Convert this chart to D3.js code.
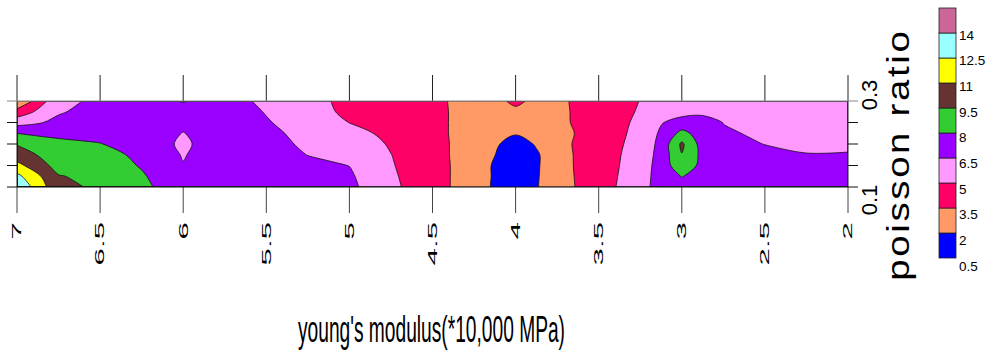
<!DOCTYPE html>
<html>
<head>
<meta charset="utf-8">
<script src="https://cdnjs.cloudflare.com/ajax/libs/d3/7.8.5/d3.min.js"></script>
<style>
  body { margin: 0; background: #fff; }
  svg { display: block; font-family: "Liberation Sans", Arial, sans-serif; }
</style>
</head>
<body>
<div id="chart"></div>
<script>
// grid columns: young's modulus (*10,000 MPa)
const youngModulus = [7, 6.75, 6.5, 6.25, 6, 5.75, 5.5, 5.25, 5, 4.75, 4.5, 4.25, 4.125, 4, 3.875, 3.75, 3.5, 3.25, 3.125, 3, 2.875, 2.75, 2.5, 2.25, 2];
// grid rows: poisson ratio, top to bottom
const poissonRatio = [0.3, 0.275, 0.25, 0.225, 0.2, 0.175, 0.15, 0.125, 0.1];

// values, one row per poisson ratio
const zRows = [
  [1.9, 6.2, 6.73, 7.0, 8.1, 7.0, 6.24, 5.5, 4.6, 4.2, 3.95, 2.7, 3.0, 3.9, 3.05, 3.15, 4.4, 5.02, 5.2, 5.3, 5.4, 5.5, 5.5, 5.6, 5.6],
  [4.1, 6.35, 7.1, 7.2, 7.4, 7.3, 6.42, 5.6, 4.7, 4.3, 4.0, 2.7, 2.7, 3.1, 2.9, 3.1, 4.4, 5.09, 5.5, 5.98, 5.9, 5.9, 5.7, 5.7, 5.7],
  [5.9, 6.85, 7.4, 7.35, 6.9, 7.4, 6.62, 5.8, 4.98, 4.5, 4.0, 2.7, 2.6, 2.5, 2.7, 3.08, 4.4, 5.2, 6.4, 7.1, 7.6, 6.45, 5.9, 5.85, 5.85],
  [7.98, 7.6, 7.7, 7.5, 6.45, 7.5, 6.9, 6.0, 5.4, 4.7, 4.0, 2.7, 2.45, 2.14, 2.4, 2.9, 4.35, 5.31, 6.74, 8.39, 7.36, 6.8, 6.1, 6.0, 6.0],
  [9.4, 8.42, 8.03, 7.6, 6.2, 7.6, 7.1, 6.2, 5.8, 4.87, 4.05, 2.7, 2.25, 1.25, 2.15, 3.03, 4.35, 5.43, 6.94, 9.76, 7.35, 7.0, 6.47, 6.24, 6.2],
  [10.2, 8.7, 8.4, 7.75, 6.4, 7.5, 7.2, 6.47, 6.1, 5.02, 4.05, 2.7, 2.02, 1.2, 1.8, 3.0, 4.3, 5.6, 7.02, 9.45, 7.59, 7.0, 6.9, 6.55, 6.6],
  [11.43, 8.93, 8.7, 7.9, 6.57, 7.4, 7.2, 6.85, 6.48, 5.1, 4.1, 2.7, 1.85, 1.1, 1.8, 2.99, 4.3, 5.7, 7.13, 9.0, 7.57, 7.0, 7.0, 6.75, 6.8],
  [12.9, 9.6, 9.0, 8.14, 7.0, 7.3, 7.15, 7.0, 6.7, 5.2, 4.1, 2.7, 1.85, 1.05, 1.85, 2.95, 4.3, 5.83, 7.14, 8.05, 7.5, 6.95, 7.0, 6.85, 6.9],
  [13.9, 9.8, 9.3, 8.3, 7.19, 7.2, 7.1, 7.0, 6.85, 5.3, 4.1, 2.7, 1.8, 1.0, 1.9, 2.9, 4.3, 5.98, 7.09, 7.5, 7.4, 6.9, 7.0, 6.9, 6.9]
];

const levels = [0.5, 2, 3.5, 5, 6.5, 8, 9.5, 11, 12.5, 14, 15.5];
const levelColors = ["#0000ff", "#ff9966", "#ff0066", "#ff99ff", "#9900ff",
                     "#33cc33", "#663333", "#ffff00", "#99ffff", "#cc6699"];
const xTicks = [7, 6.5, 6, 5.5, 5, 4.5, 4, 3.5, 3, 2.5, 2];
const yTicks = [0.1, 0.15, 0.2, 0.25, 0.3];
const yTickLabels = [0.1, 0.3];
const legendLabels = [14, 12.5, 11, 9.5, 8, 6.5, 5, 3.5, 2, 0.5];

const width = 987, height = 354;
const plot = { left: 17, right: 848, top: 101, bottom: 187 };

const svg = d3.select("#chart").append("svg")
    .attr("width", width)
    .attr("height", height);

svg.append("rect").attr("width", width).attr("height", height).attr("fill", "#fff");

const x = d3.scaleLinear().domain([7, 2]).range([plot.left, plot.right]);
const y = d3.scaleLinear().domain([0.1, 0.3]).range([plot.bottom, plot.top]);

// grid index space -> data space (values sit at cell centres i + 0.5)
const colToE = d3.scaleLinear().domain(youngModulus.map((d, i) => i + 0.5)).range(youngModulus);
const rowToNu = d3.scaleLinear().domain(poissonRatio.map((d, i) => i + 0.5)).range(poissonRatio);

const nx = youngModulus.length, ny = poissonRatio.length;

const contours = d3.contours()
    .size([nx, ny])
    .thresholds(levels.slice(0, 10))(zRows.flat());

// smoothing: interior runs get a catmull-rom curve, runs along the frame stay straight
const lo = 0.5, hiX = nx - 0.5, hiY = ny - 0.5, eps = 1e-6;
const openCurve = d3.line().curve(d3.curveCatmullRom.alpha(0.5));
const closedCurve = d3.line().curve(d3.curveCatmullRomClosed.alpha(0.5));
const toScreen = p => [x(colToE(p[0])), y(rowToNu(p[1]))];
const onEdge = p => p[0] <= lo + eps || p[0] >= hiX - eps || p[1] <= lo + eps || p[1] >= hiY - eps;

function ringPath(ring) {
  // d3 pads half a cell round the grid; pull those points back onto the frame
  let pts = ring.slice(0, -1).map(p => [
    Math.max(lo, Math.min(hiX, p[0])),
    Math.max(lo, Math.min(hiY, p[1]))
  ]);
  pts = pts.filter((p, i) => {
    const q = pts[(i + pts.length - 1) % pts.length];
    return Math.abs(p[0] - q[0]) > eps || Math.abs(p[1] - q[1]) > eps;
  });
  if (pts.length < 3) return "";
  const start = pts.findIndex(onEdge);
  if (start < 0) return closedCurve(pts.map(toScreen));

  pts = pts.slice(start).concat(pts.slice(0, start));
  pts.push(pts[0]);
  let s = "M" + toScreen(pts[0]).join(",");
  let run = [pts[0]];
  for (let i = 1; i < pts.length; i++) {
    run.push(pts[i]);
    if (onEdge(pts[i])) {
      if (run.length === 2) s += "L" + toScreen(pts[i]).join(",");
      else s += openCurve(run.map(toScreen)).replace(/^M/, "L");
      run = [pts[i]];
    }
  }
  return s + "Z";
}

function contourPath(c) {
  let s = "";
  c.coordinates.forEach(poly => poly.forEach(ring => { s += ringPath(ring); }));
  return s;
}

svg.append("clipPath").attr("id", "plotClip")
  .append("rect")
    .attr("x", plot.left).attr("y", plot.top)
    .attr("width", plot.right - plot.left)
    .attr("height", plot.bottom - plot.top);

const g = svg.append("g").attr("clip-path", "url(#plotClip)");

g.selectAll("path.band")
  .data(contours)
  .enter().append("path")
    .attr("class", "band")
    .attr("d", contourPath)
    .attr("fill-rule", "evenodd")
    .attr("fill", d => levelColors[levels.indexOf(d.value)])
    .attr("stroke", "none");

g.selectAll("path.iso")
  .data(contours.slice(1))
  .enter().append("path")
    .attr("class", "iso")
    .attr("d", contourPath)
    .attr("fill", "none")
    .attr("stroke", "#111")
    .attr("stroke-width", 0.8)
    .attr("stroke-linejoin", "round");

// x ticks stick out above and below the plot
svg.selectAll("line.xtick")
  .data(xTicks)
  .enter().append("line")
    .attr("x1", d => x(d)).attr("x2", d => x(d))
    .attr("y1", plot.top - 26).attr("y2", plot.top)
    .attr("stroke", "#222");
svg.selectAll("line.xtick2")
  .data(xTicks)
  .enter().append("line")
    .attr("x1", d => x(d)).attr("x2", d => x(d))
    .attr("y1", plot.bottom).attr("y2", plot.bottom + 26)
    .attr("stroke", "#444");
// left and right frame lines
[7, 2].forEach(v => {
  svg.append("line")
    .attr("x1", x(v)).attr("x2", x(v))
    .attr("y1", plot.top).attr("y2", plot.bottom)
    .attr("stroke", "#222");
});

// y ticks on both sides
svg.selectAll("line.ytick")
  .data(yTicks)
  .enter().append("line")
    .attr("x1", plot.left - 10).attr("x2", plot.left)
    .attr("y1", d => y(d)).attr("y2", d => y(d))
    .attr("stroke", d => d === 0.3 ? "#888" : "#111");
svg.selectAll("line.ytick2")
  .data(yTicks)
  .enter().append("line")
    .attr("x1", plot.right).attr("x2", plot.right + 10)
    .attr("y1", d => y(d)).attr("y2", d => y(d))
    .attr("stroke", d => d === 0.3 ? "#888" : "#111");

// top border is grey, bottom border black
svg.append("line")
    .attr("x1", plot.left).attr("x2", plot.right)
    .attr("y1", y(0.3)).attr("y2", y(0.3))
    .attr("stroke", "#888");
svg.append("line")
    .attr("x1", plot.left).attr("x2", plot.right)
    .attr("y1", y(0.1)).attr("y2", y(0.1))
    .attr("stroke", "#111");

// x tick labels, rotated and stretched along the baseline
svg.selectAll("text.xlab")
  .data(xTicks)
  .enter().append("text")
    .attr("transform", d => `translate(${x(d)},222) rotate(-90) scale(2.5,1)`)
    .attr("text-anchor", "end")
    .attr("dy", "0.35em")
    .style("font-size", "12.5px")
    .text(d => d);

// y tick labels
svg.selectAll("text.ylab")
  .data(yTickLabels)
  .enter().append("text")
    .attr("transform", d => `translate(869,${d === 0.3 ? y(d) - 6 : y(d) + 13}) rotate(-90)`)
    .attr("text-anchor", "middle")
    .attr("dy", "0.35em")
    .style("font-size", "22px")
    .text(d => d);

// axis title: glyphs widened a bit and letter spaced
svg.append("text")
    .attr("transform", "translate(909,156) rotate(-90) scale(1.2,1)")
    .attr("text-anchor", "middle")
    .attr("textLength", 208)
    .attr("lengthAdjust", "spacing")
    .style("font-size", "32px")
    .text("poisson ratio");

svg.append("text")
    .attr("x", 298).attr("y", 342)
    .attr("textLength", 267)
    .attr("lengthAdjust", "spacingAndGlyphs")
    .style("font-size", "37px")
    .text("young's modulus(*10,000 MPa)");

// colour key
const leg = d3.scaleLinear().domain([0.5, 15.5]).range([258, 8]);
const legLabelY = d3.scaleLinear().domain([0.5, 14]).range([266, 35]);
const legend = svg.append("g");
legend.selectAll("rect")
  .data(levelColors)
  .enter().append("rect")
    .attr("x", 939)
    .attr("y", (d, i) => leg(levels[i + 1]))
    .attr("width", 17)
    .attr("height", (d, i) => leg(levels[i]) - leg(levels[i + 1]))
    .attr("fill", d => d)
    .attr("stroke", "#222")
    .attr("stroke-width", 0.8);
legend.selectAll("text")
  .data(legendLabels)
  .enter().append("text")
    .attr("x", 959)
    .attr("y", d => legLabelY(d))
    .attr("dy", "0.35em")
    .style("font-size", "13.5px")
    .text(d => d);
</script>
</body>
</html>
